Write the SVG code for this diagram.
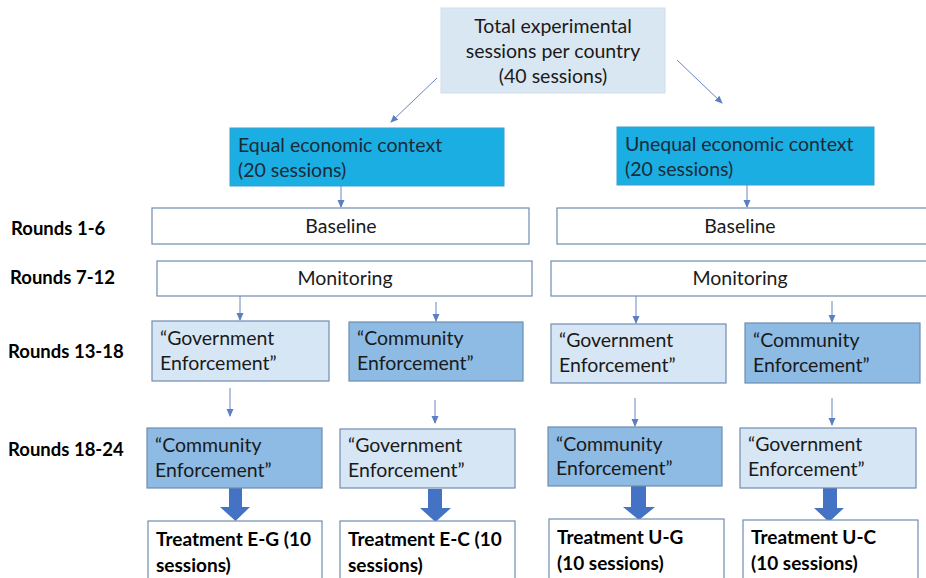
<svg xmlns="http://www.w3.org/2000/svg" width="926" height="578" viewBox="0 0 926 578">
<style>
text{font-family:Lato,"Open Sans","Liberation Sans",sans-serif;fill:#1a1a1a}
.n{font-size:19.5px}
.c{text-anchor:middle}
.b{font-weight:bold;font-size:19px;fill:#000}
.lbl{font-weight:bold;font-size:18.5px;fill:#000}
.top{fill:#d9e7f3;stroke:#d0dfec;stroke-width:1}
.ctx{fill:#1aaee3;stroke:#3a9fd0;stroke-width:1}
.ctx-t{fill:#1b2b38}
.wh{fill:#fff;stroke:#6f8db0;stroke-width:1.2}
.lt{fill:#d7e6f4;stroke:#6f8db0;stroke-width:1.2}
.md{fill:#8dbbe4;stroke:#6f8db0;stroke-width:1.2}
.ln{stroke:#6a86c0;stroke-width:1;fill:none;marker-end:url(#ah)}
.big{fill:#4472c4}
</style>
<defs>
<marker id="ah" markerWidth="8" markerHeight="8" refX="7" refY="4" orient="auto" markerUnits="userSpaceOnUse">
<path d="M0,0.5 L8,4 L0,7.5 Z" fill="#5b7fc0"/>
</marker>
</defs>
<g id="labels">
<text class="lbl" x="11" y="235">Rounds 1-6</text>
<text class="lbl" x="10" y="284">Rounds 7-12</text>
<text class="lbl" x="8" y="358">Rounds 13-18</text>
<text class="lbl" x="8" y="456">Rounds 18-24</text>
</g>
<g id="connectors">
<line class="ln" x1="437" y1="78" x2="391" y2="122"/>
<line class="ln" x1="677" y1="60" x2="722" y2="103"/>
<line class="ln" x1="341" y1="186" x2="341" y2="207"/>
<line class="ln" x1="747" y1="185" x2="747" y2="207"/>
<line class="ln" x1="240" y1="296" x2="240" y2="320"/>
<line class="ln" x1="436" y1="302" x2="436" y2="321"/>
<line class="ln" x1="636" y1="296" x2="636" y2="323"/>
<line class="ln" x1="832" y1="301" x2="832" y2="322"/>
<line class="ln" x1="230" y1="388" x2="230" y2="416"/>
<line class="ln" x1="435" y1="400" x2="435" y2="423"/>
<line class="ln" x1="635" y1="398" x2="635" y2="426"/>
<line class="ln" x1="832" y1="398" x2="832" y2="425"/>
<path class="big" d="M229,488 H242 V507 H250 L235.5,521 L220,507 H229 Z"/>
<path class="big" d="M428,489 H442 V508 H451 L435.5,522 L420,508 H428 Z"/>
<path class="big" d="M631,486 H646 V507 H655 L639,520 L623,507 H631 Z"/>
<path class="big" d="M823,488 H837 V508 H844 L829,522 L814,508 H823 Z"/>
</g>
<g id="total">
<rect class="top" x="441" y="8" width="224" height="85"/>
<text class="n c" x="553" y="33">Total experimental</text>
<text class="n c" x="553" y="58">sessions per country</text>
<text class="n c" x="553" y="83">(40 sessions)</text>
</g>
<g id="equal">
<rect class="ctx" x="230" y="128" width="274" height="58"/>
<text class="n ctx-t" x="238" y="152">Equal economic context</text>
<text class="n ctx-t" x="238" y="177">(20 sessions)</text>
</g>
<g id="unequal">
<rect class="ctx" x="617" y="127" width="257" height="58"/>
<text class="n ctx-t" x="625" y="151">Unequal economic context</text>
<text class="n ctx-t" x="625" y="176">(20 sessions)</text>
</g>
<g id="baseline-e">
<rect class="wh" x="152" y="208" width="377" height="36"/>
<text class="n c" x="341" y="233">Baseline</text>
</g>
<g id="baseline-u">
<rect class="wh" x="557" y="208" width="370" height="36"/>
<text class="n c" x="740" y="233">Baseline</text>
</g>
<g id="monitoring-e">
<rect class="wh" x="157" y="261" width="375" height="35"/>
<text class="n c" x="345" y="285">Monitoring</text>
</g>
<g id="monitoring-u">
<rect class="wh" x="551" y="261" width="376" height="35"/>
<text class="n c" x="740" y="285">Monitoring</text>
</g>
<g id="e-gov1">
<rect class="lt" x="152" y="321" width="177" height="60"/>
<text class="n" x="160" y="345">“Government</text>
<text class="n" x="160" y="370">Enforcement”</text>
</g>
<g id="e-com1">
<rect class="md" x="349" y="322" width="174" height="59"/>
<text class="n" x="357" y="345">“Community</text>
<text class="n" x="357" y="370">Enforcement”</text>
</g>
<g id="u-gov1">
<rect class="lt" x="551" y="324" width="175" height="59"/>
<text class="n" x="559" y="347">“Government</text>
<text class="n" x="559" y="372">Enforcement”</text>
</g>
<g id="u-com1">
<rect class="md" x="745" y="323" width="175" height="60"/>
<text class="n" x="753" y="347">“Community</text>
<text class="n" x="753" y="372">Enforcement”</text>
</g>
<g id="e-com2">
<rect class="md" x="147" y="428" width="175" height="60"/>
<text class="n" x="155" y="452">“Community</text>
<text class="n" x="155" y="477">Enforcement”</text>
</g>
<g id="e-gov2">
<rect class="lt" x="340" y="429" width="175" height="59"/>
<text class="n" x="348" y="452">“Government</text>
<text class="n" x="348" y="477">Enforcement”</text>
</g>
<g id="u-com2">
<rect class="md" x="548" y="427" width="174" height="59"/>
<text class="n" x="556" y="451">“Community</text>
<text class="n" x="556" y="475">Enforcement”</text>
</g>
<g id="u-gov2">
<rect class="lt" x="740" y="428" width="176" height="60"/>
<text class="n" x="748" y="451">“Government</text>
<text class="n" x="748" y="476">Enforcement”</text>
</g>
<g id="t-eg">
<rect class="wh" x="148" y="521" width="174" height="62"/>
<text class="b" x="156" y="546">Treatment E-G (10</text>
<text class="b" x="156" y="572">sessions)</text>
</g>
<g id="t-ec">
<rect class="wh" x="340" y="521" width="175" height="62"/>
<text class="b" x="348" y="546">Treatment E-C (10</text>
<text class="b" x="348" y="572">sessions)</text>
</g>
<g id="t-ug">
<rect class="wh" x="549" y="519" width="175" height="64"/>
<text class="b" x="557" y="544">Treatment U-G</text>
<text class="b" x="557" y="570">(10 sessions)</text>
</g>
<g id="t-uc">
<rect class="wh" x="743" y="520" width="175" height="63"/>
<text class="b" x="751" y="544">Treatment U-C</text>
<text class="b" x="751" y="570">(10 sessions)</text>
</g>
</svg>
